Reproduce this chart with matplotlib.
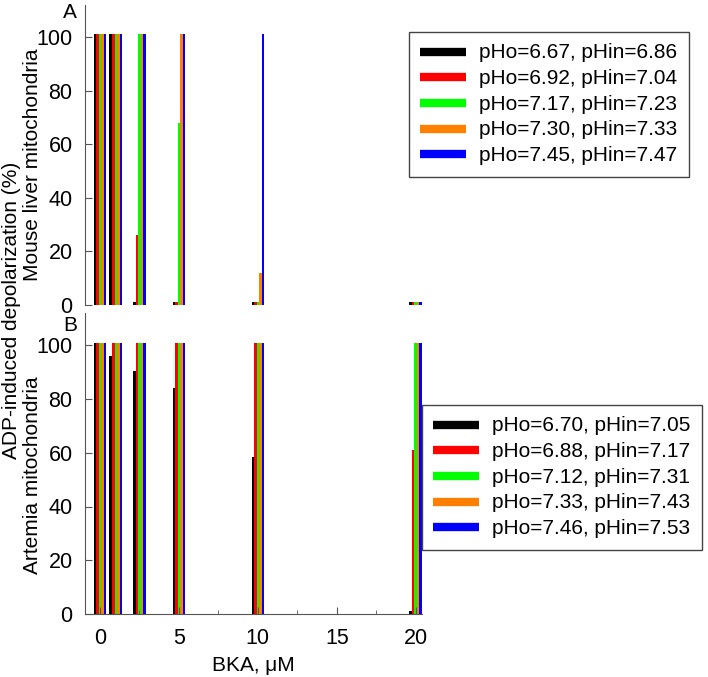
import numpy as np
import matplotlib
matplotlib.use("Agg")
import matplotlib.pyplot as plt
from matplotlib.ticker import MultipleLocator

plt.rcParams['font.family'] = ['Liberation Sans', 'DejaVu Sans']
plt.rcParams['font.size'] = 15

# BKA concentrations (uM)
bka = [0, 1, 2.5, 5, 10, 20]
colors = ['#000000', '#ff0000', '#00ff00', '#ff8000', '#0000ff']

# panel A: mouse liver mitochondria
labels_a = ['pHo=6.67, pHin=6.86', 'pHo=6.92, pHin=7.04', 'pHo=7.17, pHin=7.23',
            'pHo=7.30, pHin=7.33', 'pHo=7.45, pHin=7.47']
vals_a = [
    [101, 101, 1, 1, 1, 1],
    [101, 101, 26, 1, 1, 1],
    [101, 101, 101, 68, 1, 1],
    [101, 101, 101, 101, 12, 1],
    [101, 101, 101, 101, 101, 1],
]

# panel B: Artemia mitochondria
labels_b = ['pHo=6.70, pHin=7.05', 'pHo=6.88, pHin=7.17', 'pHo=7.12, pHin=7.31',
            'pHo=7.33, pHin=7.43', 'pHo=7.46, pHin=7.53']
vals_b = [
    [101, 96, 90.5, 84, 58.5, 1],
    [101, 101, 101, 101, 101, 61],
    [101, 101, 101, 101, 101, 101],
    [101, 101, 101, 101, 101, 101],
    [101, 101, 101, 101, 101, 101],
]

W, H = 708, 677
fig = plt.figure(figsize=(W / 100, H / 100), dpi=100)
ax_a = fig.add_axes([85 / W, 1 - 305 / H, 337 / W, 300 / H])
ax_b = fig.add_axes([85 / W, 1 - 614 / H, 337 / W, 301 / H])

bw = 0.16
x = np.array(bka)


def draw(ax, vals, labels):
    for i, (v, c, lab) in enumerate(zip(vals, colors, labels)):
        ax.bar(x + (i - 2) * bw, v, width=bw, color=c, label=lab, linewidth=0)
    ax.set_xlim(-0.95, 20.4)
    ax.set_ylim(0, 112)
    ax.set_yticks([0, 20, 40, 60, 80, 100])
    ax.spines['top'].set_visible(False)
    ax.spines['right'].set_visible(False)
    ax.spines['left'].set_color('#555555')
    ax.spines['bottom'].set_color('#555555')
    ax.tick_params(direction='in', length=5, color='#555555')
    ax.tick_params(axis='y', pad=9, labelsize=15.5)


draw(ax_a, vals_a, labels_a)
ax_a.spines['bottom'].set_visible(False)
ax_a.tick_params(axis='x', bottom=False, labelbottom=False)

draw(ax_b, vals_b, labels_b)
ax_b.set_xticks([0, 5, 10, 15, 20])
ax_b.xaxis.set_minor_locator(MultipleLocator(2.5))
ax_b.tick_params(axis='x', which='major', pad=10, labelsize=15.5)
ax_b.tick_params(axis='x', which='minor', direction='in', length=3, color='#555555')
ax_b.set_xlabel('BKA, \u03bcM', labelpad=5)

leg_kw = dict(loc='upper left', bbox_transform=fig.transFigure, fancybox=False,
              edgecolor='#444444', framealpha=1, handlelength=2.2, handleheight=0.5,
              handletextpad=0.6, labelspacing=0.32, borderpad=0.55, borderaxespad=0,
              fontsize=15)
for ax, anchor in ((ax_a, (409 / W, 1 - 32 / H)), (ax_b, (422 / W, 1 - 405 / H))):
    lines = [plt.Line2D([], [], color=c, lw=6, solid_capstyle='butt') for c in colors]
    labs = [t.get_label() for t in ax.containers]
    leg = ax.legend(lines, labs, bbox_to_anchor=anchor, **leg_kw)
    leg.get_frame().set_linewidth(1.0)

fig.text(70 / W, 1 - 12 / H, 'A', ha='center', va='center')
fig.text(70 / W, 1 - 326 / H, 'B', ha='center', va='center')
fig.text(33 / W, 1 - 165 / H, 'Mouse liver mitochondria', rotation=90, ha='center', va='center')
fig.text(33 / W, 1 - 475 / H, 'Artemia mitochondria', rotation=90, ha='center', va='center')
fig.text(12 / W, 1 - 310 / H, 'ADP-induced depolarization (%)', rotation=90, ha='center', va='center')

fig.savefig('out.png', dpi=100)
